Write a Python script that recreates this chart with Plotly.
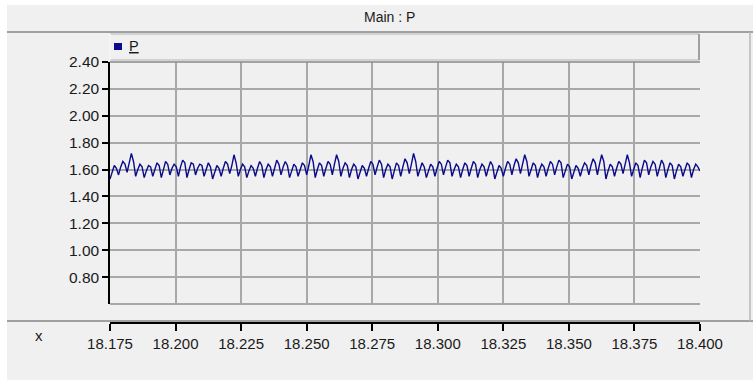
import numpy as np
import plotly.graph_objects as go

# Signal P sampled evenly over the x window (trough, rise, peak, shoulder per cycle)
X_START, X_END = 18.175, 18.400
p_values = [
    1.53, 1.58, 1.63, 1.61,  1.56, 1.62, 1.66, 1.64,  1.58, 1.65, 1.72, 1.66,
    1.55, 1.60, 1.64, 1.62,  1.54, 1.59, 1.63, 1.62,  1.55, 1.60, 1.65, 1.63,
    1.54, 1.60, 1.66, 1.64,  1.56, 1.61, 1.64, 1.62,  1.55, 1.62, 1.67, 1.65,
    1.54, 1.60, 1.65, 1.64,  1.56, 1.61, 1.64, 1.63,  1.55, 1.60, 1.65, 1.62,
    1.53, 1.58, 1.63, 1.61,  1.55, 1.61, 1.66, 1.64,  1.57, 1.63, 1.71, 1.65,
    1.55, 1.60, 1.64, 1.62,  1.54, 1.59, 1.63, 1.61,  1.55, 1.61, 1.66, 1.63,
    1.54, 1.60, 1.64, 1.62,  1.55, 1.61, 1.67, 1.64,  1.56, 1.62, 1.66, 1.63,
    1.54, 1.59, 1.64, 1.62,  1.55, 1.60, 1.65, 1.63,  1.56, 1.63, 1.71, 1.66,
    1.54, 1.60, 1.65, 1.63,  1.55, 1.61, 1.66, 1.64,  1.56, 1.64, 1.71, 1.66,
    1.55, 1.61, 1.65, 1.63,  1.54, 1.60, 1.64, 1.62,  1.53, 1.58, 1.63, 1.61,
    1.55, 1.61, 1.66, 1.64,  1.56, 1.62, 1.67, 1.64,  1.54, 1.60, 1.64, 1.62,
    1.53, 1.59, 1.65, 1.63,  1.55, 1.62, 1.68, 1.65,  1.57, 1.64, 1.72, 1.66,
    1.55, 1.60, 1.65, 1.62,  1.54, 1.59, 1.64, 1.62,  1.55, 1.61, 1.66, 1.64,
    1.56, 1.62, 1.67, 1.65,  1.55, 1.60, 1.64, 1.62,  1.54, 1.60, 1.65, 1.63,
    1.55, 1.61, 1.66, 1.64,  1.54, 1.60, 1.64, 1.62,  1.55, 1.61, 1.66, 1.63,
    1.53, 1.58, 1.63, 1.61,  1.55, 1.61, 1.66, 1.64,  1.56, 1.63, 1.68, 1.65,
    1.57, 1.64, 1.71, 1.66,  1.55, 1.60, 1.65, 1.63,  1.54, 1.60, 1.64, 1.62,
    1.55, 1.61, 1.66, 1.64,  1.56, 1.62, 1.67, 1.65,  1.54, 1.59, 1.64, 1.62,
    1.53, 1.58, 1.63, 1.61,  1.55, 1.61, 1.65, 1.63,  1.56, 1.63, 1.68, 1.65,
    1.56, 1.64, 1.71, 1.66,  1.53, 1.59, 1.64, 1.62,  1.55, 1.61, 1.66, 1.64,
    1.57, 1.64, 1.71, 1.65,  1.55, 1.60, 1.65, 1.63,  1.54, 1.61, 1.67, 1.65,
    1.56, 1.62, 1.66, 1.64,  1.55, 1.61, 1.67, 1.64,  1.54, 1.60, 1.65, 1.63,
    1.53, 1.59, 1.64, 1.62,  1.55, 1.60, 1.65, 1.63,  1.54, 1.60, 1.64, 1.62,
    1.59,
]
x_ticks = [18.175, 18.200, 18.225, 18.250, 18.275, 18.300, 18.325, 18.350, 18.375, 18.400]
y_ticks = [0.80, 1.00, 1.20, 1.40, 1.60, 1.80, 2.00, 2.20, 2.40]

x_values = np.linspace(X_START, X_END, len(p_values))

W, H = 753, 380
L, R, T, B = 110, 700, 62, 323      # plotting rectangle incl. detached x axis
PLOT_BOTTOM = 304                    # bottom of the white data area


def px(v):
    return (v - L) / (R - L)


def py(v):
    return (B - v) / (B - T)


FONT = "Liberation Sans, Arial, sans-serif"
TXT = "#1a1a1a"
GRID = "#a8a8a8"
FRAME = "#a0a0a0"
NAVY = "#0a0a8c"

fig = go.Figure()
fig.add_trace(go.Scatter(
    x=x_values, y=p_values, mode="lines", name="P",
    line=dict(color=NAVY, width=1.4), showlegend=False,
))
# carrier for the detached bottom axis
fig.add_trace(go.Scatter(x=[X_START], y=[None], xaxis="x2", mode="markers",
                         showlegend=False, hoverinfo="skip"))

shapes = [
    # window panel
    dict(type="rect", xref="paper", yref="paper", x0=px(7), x1=px(W + 5),
         y0=py(H + 5), y1=py(5), fillcolor="#f0f0f0", line_width=0, layer="below"),
    dict(type="line", xref="paper", yref="paper", x0=px(7), x1=px(W + 5),
         y0=py(32), y1=py(32), line=dict(color=FRAME, width=2)),
    dict(type="line", xref="paper", yref="paper", x0=px(7), x1=px(W + 5),
         y0=py(321), y1=py(321), line=dict(color=FRAME, width=2)),
    dict(type="line", xref="paper", yref="paper", x0=px(750), x1=px(750),
         y0=py(32), y1=py(321), line=dict(color="#b8b8b8", width=1.5)),
    # legend strip
    dict(type="rect", xref="paper", yref="paper", x0=px(110), x1=px(699),
         y0=py(60), y1=py(34), fillcolor="#f0f0f0",
         line=dict(color="#b4b4b4", width=1), layer="below"),
    dict(type="line", xref="paper", yref="paper", x0=px(699), x1=px(699),
         y0=py(60), y1=py(34), line=dict(color="#909090", width=1.5)),
    dict(type="line", xref="paper", yref="paper", x0=px(110), x1=px(110),
         y0=py(60), y1=py(34), line=dict(color="#ffffff", width=1.5)),
    dict(type="rect", xref="paper", yref="paper", x0=px(114), x1=px(122),
         y0=py(50), y1=py(43), fillcolor=NAVY, line_width=0),
    # data-area frame
    dict(type="line", xref="x domain", yref="y domain", x0=0, x1=1, y0=0, y1=0,
         line=dict(color=GRID, width=2)),
    dict(type="line", xref="x domain", yref="y domain", x0=0, x1=1, y0=1, y1=1,
         line=dict(color="#8a8a8a", width=1.5)),
]

annotations = [
    dict(text="Main : P", x=px(389), y=py(17), xref="paper", yref="paper",
         xanchor="center", yanchor="middle",
         showarrow=False, font=dict(family=FONT, size=14, color=TXT)),
    dict(text="<u>P</u>", x=px(127), y=py(46), xref="paper", yref="paper",
         xanchor="left", yanchor="middle",
         showarrow=False, font=dict(family=FONT, size=14.5, color=TXT)),
    dict(text="x", x=px(39), y=py(335), xref="paper", yref="paper",
         xanchor="center", yanchor="middle",
         showarrow=False, font=dict(family=FONT, size=15, color=TXT)),
]

fig.update_layout(
    width=W, height=H,
    margin=dict(l=L, r=W - R, t=T, b=H - B, pad=0),
    paper_bgcolor="#ffffff", plot_bgcolor="#ffffff",
    showlegend=False,
    shapes=shapes, annotations=annotations,
    xaxis=dict(
        domain=[0, 1], range=[X_START, X_END], tickvals=x_ticks,
        showticklabels=False, ticks="", showgrid=True, gridcolor=GRID,
        gridwidth=1.5, zeroline=False, showline=False,
    ),
    xaxis2=dict(
        overlaying="x", anchor="free", position=0, side="bottom",
        range=[X_START, X_END], tickvals=x_ticks,
        ticktext=[f"{v:.3f}" for v in x_ticks],
        showgrid=False, zeroline=False, showline=True, linecolor="#000000",
        linewidth=1.5, ticks="outside", ticklen=7, tickcolor="#000000",
        tickwidth=1.5, tickfont=dict(family=FONT, size=15, color=TXT),
    ),
    yaxis=dict(
        domain=[py(PLOT_BOTTOM), 1], range=[0.6, 2.4], tickvals=y_ticks,
        ticktext=[f"{v:.2f}" for v in y_ticks],
        showgrid=True, gridcolor=GRID, gridwidth=1.5, zeroline=False,
        showline=True, linecolor="#000000", linewidth=1.5,
        ticks="outside", ticklen=6, tickcolor="#000000", tickwidth=1.5,
        tickfont=dict(family=FONT, size=15.5, color=TXT),
    ),
)

fig.write_html("out.html")
